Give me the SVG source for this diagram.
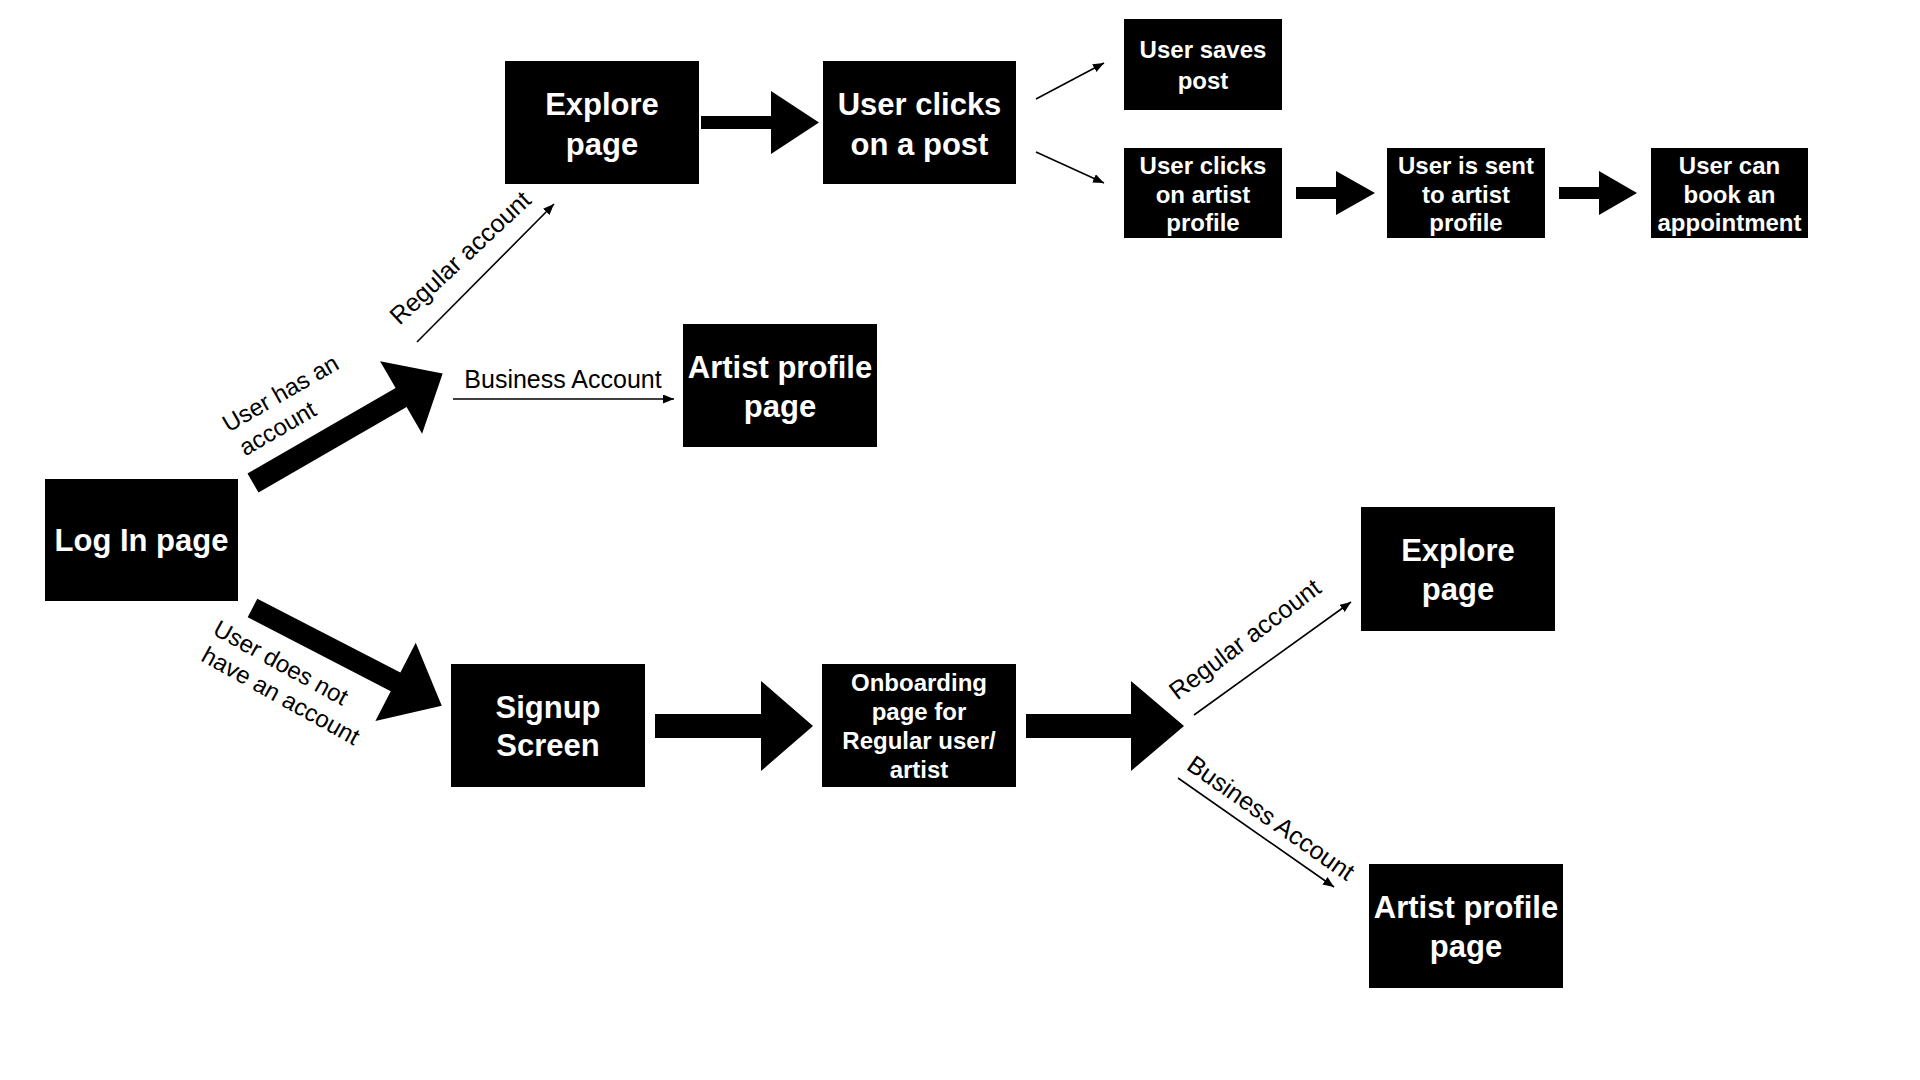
<svg xmlns="http://www.w3.org/2000/svg" width="1920" height="1080" viewBox="0 0 1920 1080">
<style>
.box{fill:#000}
.big{font-family:"Liberation Sans",Arial,sans-serif;font-weight:bold;font-size:31px;fill:#fff;text-anchor:middle}
.sm{font-family:"Liberation Sans",Arial,sans-serif;font-weight:bold;font-size:24px;fill:#fff;text-anchor:middle}
.lbl{font-family:"Liberation Sans",Arial,sans-serif;font-size:25px;fill:#000;text-anchor:middle}
.lbs{font-family:"Liberation Sans",Arial,sans-serif;font-size:24px;fill:#000;text-anchor:middle}
.thin{stroke:#000;stroke-width:1.6;fill:none;marker-end:url(#ah)}
.blk{fill:#000}
</style>
<defs>
<marker id="ah" markerUnits="userSpaceOnUse" markerWidth="12" markerHeight="10" refX="11" refY="4.5" orient="auto">
<path d="M0,0 L11,4.5 L0,9 z" fill="#000"/>
</marker>
</defs>
<rect width="1920" height="1080" fill="#fff"/>

<g id="login"><rect class="box" x="45" y="479" width="193" height="122"/><text class="big" x="141.5" y="551">Log In page</text></g>
<g id="explore1"><rect class="box" x="505" y="61" width="194" height="123"/><text class="big" x="602" y="115">Explore</text><text class="big" x="602" y="155">page</text></g>
<g id="clickpost"><rect class="box" x="823" y="61" width="193" height="123"/><text class="big" x="919.5" y="115">User clicks</text><text class="big" x="919.5" y="155">on a post</text></g>
<g id="savepost"><rect class="box" x="1124" y="19" width="158" height="91"/><text class="sm" x="1203" y="58">User saves</text><text class="sm" x="1203" y="89">post</text></g>
<g id="clickartist"><rect class="box" x="1124" y="148" width="158" height="90"/><text class="sm" x="1203" y="174">User clicks</text><text class="sm" x="1203" y="203">on artist</text><text class="sm" x="1203" y="231">profile</text></g>
<g id="sentartist"><rect class="box" x="1387" y="148" width="158" height="90"/><text class="sm" x="1466" y="174">User is sent</text><text class="sm" x="1466" y="203">to artist</text><text class="sm" x="1466" y="231">profile</text></g>
<g id="book"><rect class="box" x="1651" y="148" width="157" height="90"/><text class="sm" x="1729.5" y="174">User can</text><text class="sm" x="1729.5" y="203">book an</text><text class="sm" x="1729.5" y="231">appointment</text></g>
<g id="artist1"><rect class="box" x="683" y="324" width="194" height="123"/><text class="big" x="780" y="378">Artist profile</text><text class="big" x="780" y="417">page</text></g>
<g id="signup"><rect class="box" x="451" y="664" width="194" height="123"/><text class="big" x="548" y="718">Signup</text><text class="big" x="548" y="756">Screen</text></g>
<g id="onboarding"><rect class="box" x="822" y="664" width="194" height="123"/><text class="sm" x="919" y="691">Onboarding</text><text class="sm" x="919" y="720">page for</text><text class="sm" x="919" y="749">Regular user/</text><text class="sm" x="919" y="778">artist</text></g>
<g id="explore2"><rect class="box" x="1361" y="507" width="194" height="124"/><text class="big" x="1458" y="561">Explore</text><text class="big" x="1458" y="600">page</text></g>
<g id="artist2"><rect class="box" x="1369" y="864" width="194" height="124"/><text class="big" x="1466" y="918">Artist profile</text><text class="big" x="1466" y="957">page</text></g>

<g id="connectors">
<polygon class="blk" transform="translate(253,483) rotate(-30)" points="0,-11 171,-11 171,-42 219,0 171,42 171,11 0,11"/>
<polygon class="blk" transform="translate(252.5,608) rotate(27.3)" points="0,-10.5 161,-10.5 161,-44 213,0 161,44 161,10.5 0,10.5"/>
<polygon class="blk" points="701,116 771,116 771,91 819,122.5 771,154 771,129 701,129"/>
<polygon class="blk" points="1296,187 1336,187 1336,171 1375,193 1336,215 1336,199 1296,199"/>
<polygon class="blk" points="1559,187 1599,187 1599,171 1637,193 1599,215 1599,199 1559,199"/>
<polygon class="blk" points="655,714 761,714 761,681 813,726 761,771 761,738 655,738"/>
<polygon class="blk" points="1026,714 1131,714 1131,681 1184,726 1131,771 1131,738 1026,738"/>
<line class="thin" x1="417" y1="342" x2="554" y2="204"/>
<line class="thin" x1="453" y1="399" x2="674" y2="399"/>
<line class="thin" x1="1036" y1="99" x2="1104" y2="63"/>
<line class="thin" x1="1036" y1="152" x2="1104" y2="183"/>
<line class="thin" x1="1194" y1="715" x2="1351" y2="602"/>
<line class="thin" x1="1178" y1="778" x2="1334" y2="887"/>
<text class="lbl" transform="translate(466,264) rotate(-43)">Regular account</text>
<text class="lbl" x="563" y="388">Business Account</text>
<g transform="translate(278,411) rotate(-30)"><text class="lbs" x="11" y="-6">User has an</text><text class="lbs" x="-9" y="23">account</text></g>
<g transform="translate(281,679) rotate(29)"><text class="lbs" x="-8" y="-6">User does not</text><text class="lbs" x="8" y="23">have an account</text></g>
<text class="lbl" transform="translate(1250,646) rotate(-37)">Regular account</text>
<text class="lbl" transform="translate(1266,825) rotate(35)">Business Account</text>
</g>
</svg>
